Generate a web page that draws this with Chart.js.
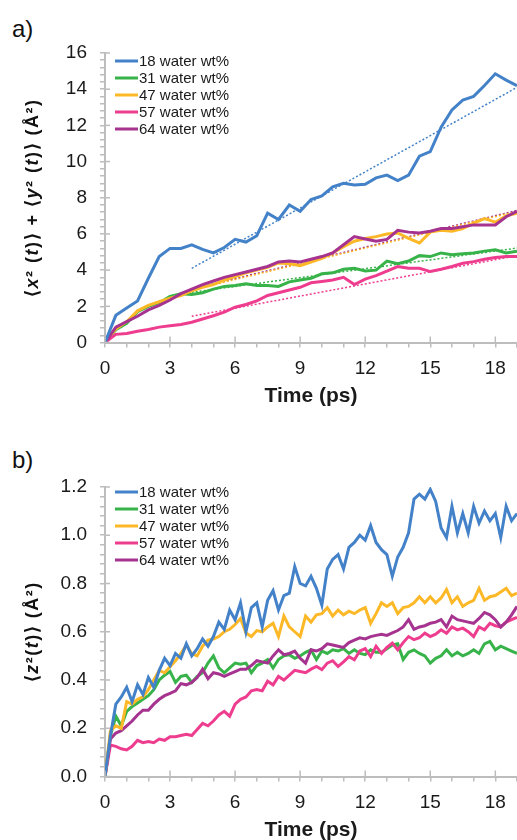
<!DOCTYPE html>
<html>
<head>
<meta charset="utf-8">
<script src="https://cdn.jsdelivr.net/npm/chart.js@4.4.0/dist/chart.umd.min.js"></script>
<style>
  body { margin: 0; background: #fff; overflow: hidden; width: 517px; height: 840px; position: relative;
         font-family: 'Liberation Sans', Arial, sans-serif; }
  canvas { position: absolute; left: 0; }
  #chartA { top: 0; }
  #chartB { top: 434px; }
  .panel { position: absolute; left: 12px; font-size: 24px; color: #111; }
</style>
</head>
<body>
<div class="panel" style="top:15px">a)</div>
<canvas id="chartA" width="517" height="412"></canvas>
<div class="panel" style="top:446px">b)</div>
<canvas id="chartB" width="517" height="412"></canvas>

<script>
// ---- data ----
var SERIES = ['18 water wt%', '31 water wt%', '47 water wt%', '57 water wt%', '64 water wt%'];
var COLORS = ['#4382c8', '#37b34a', '#fdb827', '#ee3d8f', '#a5338f'];

// y titles: [text, italic?]
var TITLE_A = [['\u27E8', 0], ['x', 1], ['\u00B2 (', 0], ['t', 1], [')\u27E9 + \u27E8', 0], ['y', 1],
               ['\u00B2 (', 0], ['t', 1], [')\u27E9 (\u00C5\u00B2)', 0]];
var TITLE_B = [['\u27E8', 0], ['z', 1], ['\u00B2(', 0], ['t', 1], [')\u27E9 (\u00C5\u00B2)', 0]];

// panel a: in-plane MSD, sampled every 0.5 ps
var TIME_A = [0, 0.5, 1, 1.5, 2, 2.5, 3, 3.5, 4, 4.5, 5, 5.5, 6, 6.5, 7, 7.5, 8, 8.5, 9, 9.5,
              10, 10.5, 11, 11.5, 12, 12.5, 13, 13.5, 14, 14.5, 15, 15.5, 16, 16.5, 17, 17.5, 18, 18.5, 19];

var MSD_XY_18 = [
    0, 1.5, 1.9, 2.3, 3.55, 4.75, 5.2, 5.2,
    5.4, 5.15, 4.95, 5.25, 5.7, 5.55, 5.9, 7.15,
    6.8, 7.6, 7.25, 7.9, 8.1, 8.6, 8.8, 8.7,
    8.75, 9.1, 9.25, 8.95, 9.25, 10.3, 10.55, 11.9,
    12.85, 13.4, 13.6, 14.2, 14.85, 14.5,
    14.2];
var MSD_XY_31 = [
    0, 0.7, 1.06, 1.7, 2.0, 2.2, 2.55, 2.7,
    2.65, 2.75, 2.95, 3.1, 3.15, 3.25, 3.15, 3.15,
    3.1, 3.35, 3.45, 3.55, 3.8, 3.85, 4.05, 4.1,
    3.95, 4.0, 4.5, 4.35, 4.5, 4.8, 4.75, 4.95,
    4.85, 4.9, 4.95, 5.05, 5.12, 4.95,
    5.05];
var MSD_XY_47 = [
    0, 0.75, 1.15, 1.75, 2.05, 2.25, 2.45, 2.6,
    2.85, 3.05, 3.2, 3.45, 3.65, 3.85, 4.0, 4.15,
    4.4, 4.35, 4.25, 4.45, 4.65, 4.95, 5.3, 5.6,
    5.75, 5.85, 6.0, 6.05, 5.75, 5.5, 6.1, 6.2,
    6.15, 6.3, 6.6, 6.85, 6.65, 7.0,
    7.15];
var MSD_XY_57 = [
    0, 0.45, 0.5, 0.62, 0.72, 0.85, 0.93, 1.0,
    1.12, 1.3, 1.48, 1.68, 1.95, 2.1, 2.3, 2.6,
    2.75, 2.9, 3.05, 3.3, 3.37, 3.45, 3.6, 3.2,
    3.5, 3.7, 3.95, 4.2, 4.1, 4.1, 3.92, 4.05,
    4.2, 4.38, 4.47, 4.6, 4.7, 4.75,
    4.75];
var MSD_XY_64 = [
    0, 0.85, 1.15, 1.45, 1.8, 2.05, 2.35, 2.7,
    2.95, 3.2, 3.4, 3.6, 3.75, 3.9, 4.05, 4.2,
    4.45, 4.5, 4.45, 4.6, 4.75, 4.95, 5.4, 5.85,
    5.72, 5.6, 5.7, 6.2, 6.1, 6.05, 6.15, 6.3,
    6.3, 6.4, 6.5, 6.5, 6.5, 6.95,
    7.25];

// linear fits (dotted), end points
var FIT_X = [4, 19];
var FIT_18 = [4.1, 14.1];
var FIT_31 = [2.77, 5.22];
var FIT_47 = [2.9, 7.25];
var FIT_57 = [1.45, 4.8];
var FIT_64 = [2.95, 7.3];

// panel b: out-of-plane MSD, sampled every 0.25 ps
var TIME_B = [0, 0.25, 0.5, 0.75, 1, 1.25, 1.5, 1.75, 2, 2.25, 2.5, 2.75, 3, 3.25, 3.5, 3.75,
              4, 4.25, 4.5, 4.75, 5, 5.25, 5.5, 5.75, 6, 6.25, 6.5, 6.75, 7, 7.25, 7.5, 7.75,
              8, 8.25, 8.5, 8.75, 9, 9.25, 9.5, 9.75, 10, 10.25, 10.5, 10.75, 11, 11.25, 11.5, 11.75,
              12, 12.25, 12.5, 12.75, 13, 13.25, 13.5, 13.75, 14, 14.25, 14.5, 14.75, 15, 15.25, 15.5, 15.75,
              16, 16.25, 16.5, 16.75, 17, 17.25, 17.5, 17.75, 18, 18.25, 18.5, 18.75, 19];

var MSD_Z_18 = [
    0, 0.17, 0.30, 0.33, 0.37, 0.31, 0.38, 0.34,
    0.41, 0.37, 0.44, 0.49, 0.46, 0.51, 0.49, 0.55,
    0.50, 0.53, 0.57, 0.54, 0.58, 0.64, 0.61, 0.69,
    0.65, 0.72, 0.60, 0.70, 0.72, 0.62, 0.73, 0.77,
    0.69, 0.75, 0.76, 0.87, 0.80, 0.79, 0.83, 0.78,
    0.71, 0.86, 0.90, 0.92, 0.86, 0.95, 0.97, 1.00,
    0.98, 1.04, 0.97, 0.94, 0.92, 0.83, 0.91, 0.95,
    1.01, 1.15, 1.17, 1.15, 1.19, 1.14, 1.03, 0.99,
    1.12, 1.01, 1.09, 1.01, 1.12, 1.05, 1.10, 1.06,
    1.09, 0.99, 1.12, 1.06,
    1.09];
var MSD_Z_31 = [
    0, 0.17, 0.25, 0.21, 0.27, 0.29, 0.305, 0.32,
    0.335, 0.36, 0.40, 0.42, 0.435, 0.39, 0.415, 0.42,
    0.39, 0.415, 0.43, 0.47, 0.50, 0.45, 0.43, 0.45,
    0.47, 0.465, 0.47, 0.43, 0.46, 0.47, 0.485, 0.45,
    0.485, 0.50, 0.505, 0.49, 0.50, 0.515, 0.525, 0.485,
    0.52, 0.51, 0.525, 0.52, 0.53, 0.51, 0.525, 0.51,
    0.505, 0.525, 0.515, 0.515, 0.53, 0.545, 0.55, 0.485,
    0.515, 0.525, 0.51, 0.50, 0.47, 0.49, 0.50, 0.525,
    0.50, 0.515, 0.50, 0.51, 0.525, 0.51, 0.55, 0.56,
    0.525, 0.54, 0.53, 0.52,
    0.51];
var MSD_Z_47 = [
    0, 0.19, 0.21, 0.20, 0.31, 0.30, 0.32, 0.33,
    0.36, 0.40, 0.44, 0.43, 0.455, 0.48, 0.51, 0.545,
    0.51, 0.50, 0.54, 0.565, 0.57, 0.58, 0.60, 0.61,
    0.63, 0.655, 0.595, 0.58, 0.605, 0.60, 0.62, 0.635,
    0.58, 0.665, 0.62, 0.60, 0.58, 0.665, 0.64, 0.67,
    0.675, 0.70, 0.665, 0.69, 0.67, 0.685, 0.675, 0.69,
    0.70, 0.635, 0.675, 0.72, 0.705, 0.72, 0.675, 0.70,
    0.705, 0.72, 0.745, 0.72, 0.745, 0.72, 0.74, 0.775,
    0.72, 0.745, 0.705, 0.72, 0.73, 0.78, 0.73, 0.745,
    0.75, 0.765, 0.78, 0.75,
    0.76];
var MSD_Z_57 = [
    0, 0.13, 0.125, 0.115, 0.11, 0.125, 0.15, 0.14,
    0.145, 0.14, 0.155, 0.15, 0.165, 0.165, 0.17, 0.175,
    0.17, 0.195, 0.22, 0.21, 0.23, 0.255, 0.27, 0.25,
    0.30, 0.32, 0.33, 0.355, 0.36, 0.355, 0.395, 0.38,
    0.415, 0.40, 0.42, 0.44, 0.435, 0.43, 0.445, 0.456,
    0.443, 0.47, 0.48, 0.456, 0.475, 0.497, 0.484, 0.52,
    0.53, 0.497, 0.54, 0.51, 0.535, 0.553, 0.525, 0.555,
    0.58, 0.567, 0.575, 0.594, 0.58, 0.59, 0.608, 0.594,
    0.62, 0.608, 0.615, 0.60, 0.58, 0.62, 0.608, 0.635,
    0.625, 0.62, 0.64, 0.65,
    0.66];
var MSD_Z_64 = [
    0, 0.155, 0.18, 0.19, 0.21, 0.23, 0.255, 0.275,
    0.275, 0.30, 0.32, 0.335, 0.345, 0.355, 0.385, 0.38,
    0.39, 0.41, 0.445, 0.405, 0.43, 0.425, 0.415, 0.425,
    0.435, 0.445, 0.445, 0.46, 0.48, 0.475, 0.47, 0.50,
    0.525, 0.505, 0.51, 0.52, 0.49, 0.47, 0.525, 0.52,
    0.53, 0.55, 0.545, 0.54, 0.535, 0.555, 0.565, 0.575,
    0.57, 0.58, 0.585, 0.59, 0.585, 0.595, 0.605, 0.62,
    0.65, 0.61, 0.62, 0.625, 0.635, 0.64, 0.65, 0.62,
    0.665, 0.65, 0.645, 0.64, 0.635, 0.655, 0.68, 0.67,
    0.65, 0.62, 0.64, 0.67,
    0.705];

// ---- helpers ----
var AXIS_GREY = '#bdbdbd';
var FONT = "'Liberation Sans', Arial, sans-serif";
Chart.defaults.font.family = FONT;
Chart.defaults.color = '#1a1a1a';

function pts(xs, ys) {
    return xs.map(function(x, i) { return {x: x, y: ys[i]}; });
}

function curve(label, idx, xs, ys, order) {
    return {label: label, data: pts(xs, ys), borderColor: COLORS[idx], borderWidth: 3,
            pointRadius: 0, tension: 0, fill: false, order: order};
}

function fit(idx, ys) {
    return {label: 'fit', data: pts(FIT_X, ys), borderColor: COLORS[idx], borderWidth: 1.5,
            borderDash: [2, 2], pointRadius: 0, fill: false, order: 10};
}

// rotated y title with italic variables
function drawYTitle(ctx, segs, cx, cy) {
    ctx.save();
    ctx.translate(cx, cy);
    ctx.rotate(-Math.PI / 2);
    ctx.letterSpacing = '1.5px';
    ctx.textBaseline = 'middle';
    ctx.textAlign = 'left';
    ctx.fillStyle = '#111';
    var fontOf = function(s) { return (s[1] ? 'italic ' : '') + 'bold 18px ' + FONT; };
    var total = 0;
    segs.forEach(function(s) { ctx.font = fontOf(s); total += ctx.measureText(s[0]).width; });
    var x = -total / 2;
    segs.forEach(function(s) {
        ctx.font = fontOf(s);
        ctx.fillText(s[0], x, 0);
        x += ctx.measureText(s[0]).width;
    });
    ctx.restore();
}

// long major ticks crossing the axis line, y title, legend inside the plot
var decor = {
    id: 'decor',
    afterDraw: function(chart, args, opts) {
        var ctx = chart.ctx, a = chart.chartArea;
        var xs = chart.scales.x, ys = chart.scales.y;
        ctx.save();
        ctx.strokeStyle = AXIS_GREY;
        ctx.lineWidth = 1.5;
        ys.ticks.forEach(function(t, i) {
            if (i % 5) return;
            var py = ys.getPixelForValue(t.value);
            ctx.beginPath(); ctx.moveTo(a.left, py); ctx.lineTo(a.left + 5, py); ctx.stroke();
        });
        xs.ticks.forEach(function(t) {
            if (t.value % 3 || t.value > 18) return;
            var px = xs.getPixelForValue(t.value);
            ctx.beginPath(); ctx.moveTo(px, a.bottom); ctx.lineTo(px, a.bottom - 6); ctx.stroke();
        });

        ctx.font = '15px ' + FONT;
        ctx.textBaseline = 'middle';
        ctx.textAlign = 'left';
        SERIES.forEach(function(name, i) {
            var y = a.top + opts.legendTop + i * opts.legendStep;
            ctx.strokeStyle = COLORS[i];
            ctx.lineWidth = 3;
            ctx.beginPath(); ctx.moveTo(a.left + 10, y); ctx.lineTo(a.left + 33, y); ctx.stroke();
            ctx.fillStyle = '#1a1a1a';
            ctx.fillText(name, a.left + 34, y + 1);
        });
        ctx.restore();

        drawYTitle(ctx, opts.title, 33, (a.top + a.bottom) / 2);
    }
};

function makeChart(id, datasets, yMax, yStep, yDigits, yTitle, legendTop) {
    var nY = Math.round(yMax / yStep);
    return new Chart(document.getElementById(id), {
        type: 'line',
        data: {datasets: datasets},
        options: {
            responsive: false,
            animation: false,
            layout: {padding: {top: 53, right: 0, bottom: 0, left: 0}},
            plugins: {legend: {display: false}, tooltip: {enabled: false},
                      decor: {legendTop: legendTop, legendStep: 17, title: yTitle}},
            scales: {
                x: {
                    type: 'linear', min: 0, max: 19,
                    afterFit: function(s) { s.height = 69.5; s.paddingRight = 0; s.paddingLeft = 0; },
                    afterBuildTicks: function(s) {
                        var t = [];
                        for (var i = 0; i <= 19; i++) t.push({value: i});
                        s.ticks = t;
                    },
                    ticks: {autoSkip: false, maxRotation: 0, padding: 10, font: {size: 19},
                            callback: function(v) { return (v % 3 === 0 && v <= 18) ? String(v) : ''; }},
                    grid: {drawOnChartArea: false, color: AXIS_GREY, lineWidth: 1.5, tickLength: 5},
                    border: {color: AXIS_GREY, width: 2},
                    title: {display: true, text: 'Time (ps)', font: {size: 21, weight: 'bold'},
                            padding: {top: 0, bottom: 3}}
                },
                y: {
                    type: 'linear', min: 0, max: yMax,
                    afterFit: function(s) { s.width = 105; },
                    afterBuildTicks: function(s) {
                        var t = [];
                        for (var i = 0; i <= nY; i++) t.push({value: Math.round(i * yStep * 1000) / 1000});
                        s.ticks = t;
                    },
                    ticks: {autoSkip: false, padding: 13, font: {size: 19},
                            callback: function(v, i) { return i % 5 === 0 ? v.toFixed(yDigits) : ''; }},
                    grid: {drawOnChartArea: false, color: AXIS_GREY, lineWidth: 1.5, tickLength: 5},
                    border: {color: AXIS_GREY, width: 2},
                    title: {display: false}
                }
            }
        },
        plugins: [decor]
    });
}

makeChart('chartA', [
    curve(SERIES[0], 0, TIME_A, MSD_XY_18, 0),
    curve(SERIES[4], 4, TIME_A, MSD_XY_64, 1),
    curve(SERIES[3], 3, TIME_A, MSD_XY_57, 2),
    curve(SERIES[2], 2, TIME_A, MSD_XY_47, 3),
    curve(SERIES[1], 1, TIME_A, MSD_XY_31, 4),
    fit(0, FIT_18), fit(1, FIT_31), fit(2, FIT_47), fit(3, FIT_57), fit(4, FIT_64)
], 16, 0.4, 0, TITLE_A, 8);

makeChart('chartB', [
    curve(SERIES[0], 0, TIME_B, MSD_Z_18, 0),
    curve(SERIES[2], 2, TIME_B, MSD_Z_47, 1),
    curve(SERIES[4], 4, TIME_B, MSD_Z_64, 2),
    curve(SERIES[3], 3, TIME_B, MSD_Z_57, 3),
    curve(SERIES[1], 1, TIME_B, MSD_Z_31, 4)
], 1.2, 0.04, 1, TITLE_B, 5);
</script>
</body>
</html>
